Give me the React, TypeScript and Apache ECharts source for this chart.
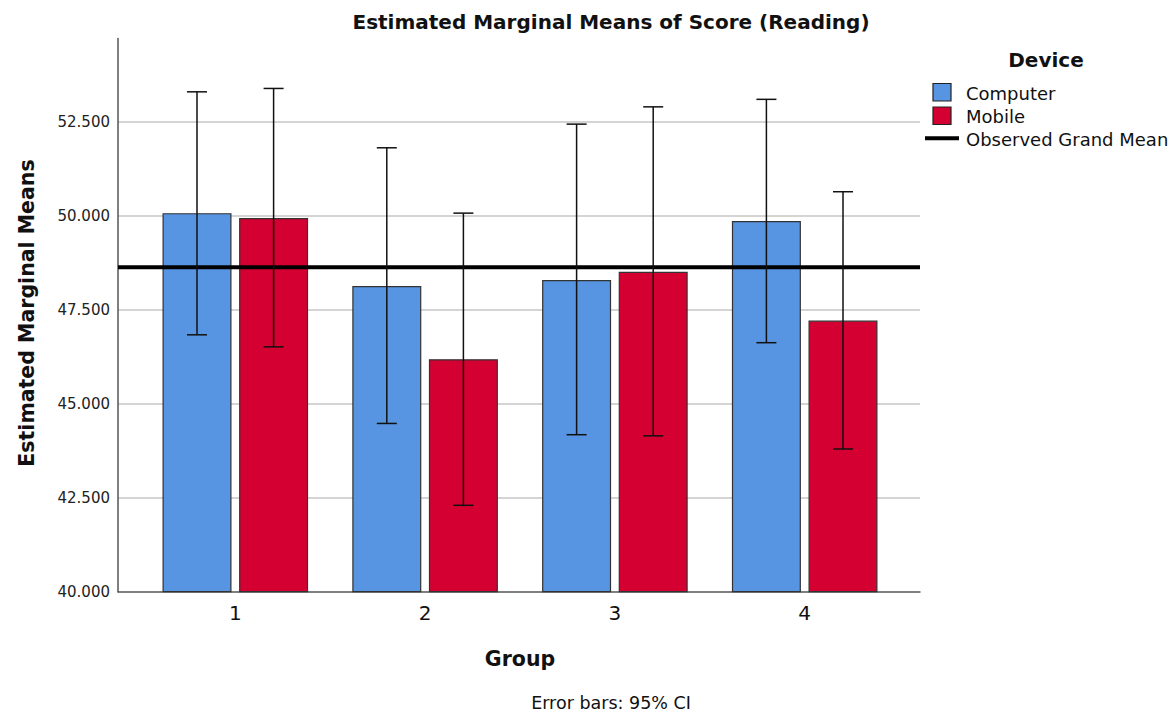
import React, { useEffect, useRef } from "react";
import * as echarts from "echarts";

const groups = ["1", "2", "3", "4"];
const deviceNames = ["Computer", "Mobile"];
const computerMeans = [50.08, 48.14, 48.3, 49.87];
const computerLower = [46.84, 44.48, 44.18, 46.63];
const computerUpper = [53.31, 51.82, 52.45, 53.11];
const mobileMeans = [49.95, 46.19, 48.52, 47.22];
const mobileLower = [46.52, 42.3, 44.15, 43.8];
const mobileUpper = [53.4, 50.08, 52.91, 50.65];
const grandMean = 48.64;
const yMin = 40;
const yMax = 54.73;
const yInterval = 2.5;

const BLUE = "#5795e2";
const RED = "#d40031";
const FONT = "DejaVu Sans";
const BAR_W = 69;
const BAR_GAP = 7.6;
const OFFSET = (BAR_W + BAR_GAP) / 2;

function errorSeries(name: string, lower: number[], upper: number[], sign: number) {
  return {
    type: "custom",
    name: name + " CI",
    xAxisIndex: 1,
    yAxisIndex: 1,
    z: 5,
    silent: true,
    data: groups.map((_, i) => [i, lower[i], upper[i]]),
    renderItem: (params: any, api: any) => {
      const x = api.value(0);
      const lo = api.coord([x, api.value(1)]);
      const hi = api.coord([x, api.value(2)]);
      const cx = lo[0] + sign * OFFSET;
      const cap = 10;
      const style = { stroke: "#111", lineWidth: 1.5 };
      return {
        type: "group",
        children: [
          { type: "line", shape: { x1: cx, y1: hi[1], x2: cx, y2: lo[1] }, style },
          { type: "line", shape: { x1: cx - cap, y1: hi[1], x2: cx + cap, y2: hi[1] }, style },
          { type: "line", shape: { x1: cx - cap, y1: lo[1], x2: cx + cap, y2: lo[1] }, style },
        ],
      };
    },
  };
}

function txt(text: string, x: number, y: number, size: number, bold: boolean, align: string, extra: any = {}) {
  return {
    type: "text",
    x,
    y,
    ...extra,
    style: {
      text,
      fontSize: size,
      fontWeight: bold ? "bold" : "normal",
      fontFamily: FONT,
      fill: "#111",
      textAlign: align,
      textVerticalAlign: "middle",
    },
  };
}

export default function App() {
  const ref = useRef<HTMLDivElement>(null);
  useEffect(() => {
    if (!ref.current) return;
    const chart = echarts.init(ref.current, null, { renderer: "svg" });
    const gridTop = 38.5;
    const gridBottom = 713 - 591.7;
    chart.setOption({
      animation: false,
      backgroundColor: "#ffffff",
      textStyle: { fontFamily: FONT },
      grid: [
        { left: 118, right: 1170 - 920, top: gridTop, bottom: gridBottom },
        { left: 140.4, right: 1170 - 899.6, top: gridTop, bottom: gridBottom },
      ],
      xAxis: [
        {
          type: "value",
          gridIndex: 0,
          min: 0,
          max: 1,
          axisLine: { show: true, lineStyle: { color: "#555", width: 1.5 } },
          axisTick: { show: false },
          axisLabel: { show: false },
          splitLine: { show: false },
        },
        {
          type: "category",
          gridIndex: 1,
          data: groups,
          axisLine: { show: false },
          axisTick: { show: false },
          axisLabel: { fontSize: 20, color: "#111", margin: 11, fontFamily: FONT },
        },
      ],
      yAxis: [
        {
          type: "value",
          gridIndex: 0,
          min: yMin,
          max: yMax,
          interval: yInterval,
          axisLine: { show: true, lineStyle: { color: "#555", width: 1.5 } },
          axisTick: { show: false },
          axisLabel: {
            fontSize: 15,
            color: "#222",
            margin: 8,
            fontFamily: FONT,
            showMaxLabel: false,
            formatter: (v: number) => (Math.abs(v / yInterval - Math.round(v / yInterval)) < 1e-6 ? v.toFixed(3) : ""),
          },
          splitLine: { show: true, showMinLine: false, showMaxLine: false, lineStyle: { color: "#d4d4d4", width: 2 } },
        },
        {
          type: "value",
          gridIndex: 1,
          min: yMin,
          max: yMax,
          interval: yInterval,
          show: false,
          splitLine: { show: false },
        },
      ],
      series: [
        {
          type: "bar",
          name: deviceNames[0],
          xAxisIndex: 1,
          yAxisIndex: 1,
          data: computerMeans,
          barWidth: BAR_W,
          barGap: (BAR_GAP / BAR_W) * 100 + "%",
          itemStyle: { color: BLUE, borderColor: "#333", borderWidth: 1.2 },
          z: 2,
        },
        {
          type: "bar",
          name: deviceNames[1],
          xAxisIndex: 1,
          yAxisIndex: 1,
          data: mobileMeans,
          barWidth: BAR_W,
          itemStyle: { color: RED, borderColor: "#333", borderWidth: 1.2 },
          z: 2,
        },
        {
          type: "line",
          name: "Observed Grand Mean",
          xAxisIndex: 0,
          yAxisIndex: 0,
          data: [
            [0, grandMean],
            [1, grandMean],
          ],
          symbol: "none",
          lineStyle: { color: "#000", width: 4 },
          z: 4,
        },
        errorSeries(deviceNames[0], computerLower, computerUpper, -1),
        errorSeries(deviceNames[1], mobileLower, mobileUpper, 1),
      ],
      graphic: [
        txt("Estimated Marginal Means of Score (Reading)", 611, 22, 20, true, "center"),
        txt("Estimated Marginal Means", 27, 313, 20.5, true, "center", { rotation: Math.PI / 2 }),
        txt("Group", 520, 659, 20.5, true, "center"),
        txt("Error bars: 95% CI", 611, 703, 17.5, false, "center"),
        txt("Device", 1046, 60, 20, true, "center"),
        {
          type: "rect",
          shape: { x: 933, y: 83.5, width: 18, height: 17.5 },
          style: { fill: BLUE, stroke: "#222", lineWidth: 1.2 },
        },
        {
          type: "rect",
          shape: { x: 933, y: 107, width: 18, height: 17.5 },
          style: { fill: RED, stroke: "#222", lineWidth: 1.2 },
        },
        {
          type: "line",
          shape: { x1: 925, y1: 138.3, x2: 959, y2: 138.3 },
          style: { stroke: "#000", lineWidth: 4 },
        },
        txt(deviceNames[0], 966, 93, 18, false, "left"),
        txt(deviceNames[1], 966, 116, 18, false, "left"),
        txt("Observed Grand Mean", 966, 139, 18, false, "left"),
      ],
    });
    return () => chart.dispose();
  }, []);
  return (
    <div
      ref={ref}
      style={{ position: "fixed", left: 0, top: 0, width: 1170, height: 713, background: "#fff" }}
    />
  );
}
